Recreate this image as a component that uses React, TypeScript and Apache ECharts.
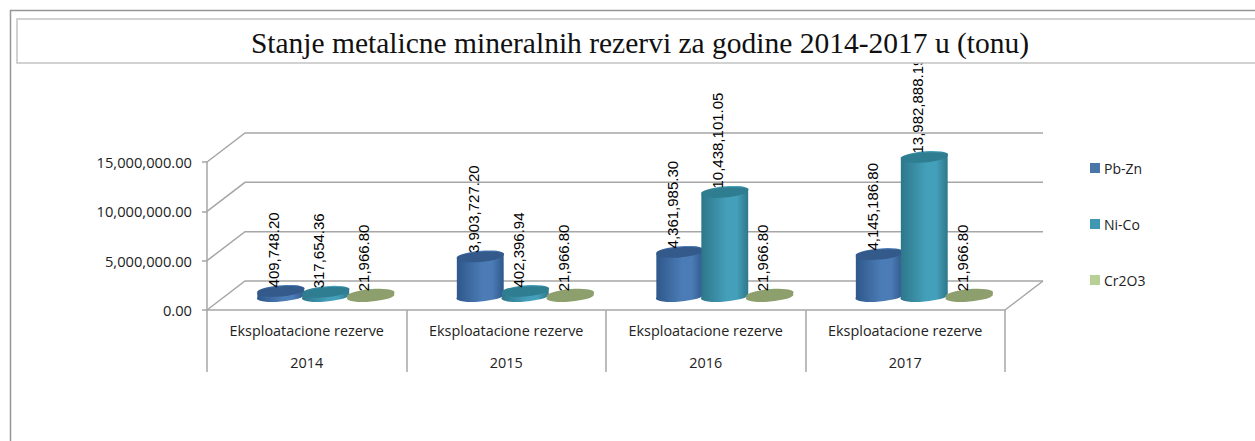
import React, { useEffect, useRef } from "react";
import * as echarts from "echarts";

const years = ["2014", "2015", "2016", "2017"];
const groupLabel = "Eksploatacione rezerve";
const titleText = "Stanje metalicne mineralnih rezervi za godine 2014-2017 u (tonu)";
const yTicks = [0, 5000000, 10000000, 15000000];
const pbZn = [409748.2, 3903727.2, 4361985.3, 4145186.8];
const niCo = [317654.36, 402396.94, 10438101.05, 13982888.19];
const cr2o3 = [21966.8, 21966.8, 21966.8, 21966.8];

const DEPTH_X = 38;
const DEPTH_Y = 29;
const GRID_COLOR = "#a6a6a6";
const RX = 23.5;
const RY = 5;
const TILT = (5 * Math.PI) / 180;

const fmt = (v: number) =>
  v.toLocaleString("en-US", { minimumFractionDigits: 2, maximumFractionDigits: 2 });

const cylinder = (offset: number, side: string, mid: string, top: string) => (params: any, api: any) => {
  const cat = api.value(0);
  const val = api.value(1);
  const t = api.coord([cat, val]);
  const b = api.coord([cat, 0]);
  const cx = t[0] + DEPTH_X / 2 + offset;
  const dy = DEPTH_Y / 2;
  const ty = t[1] - dy;
  const by = b[1] - dy;
  const ex = RX * Math.cos(TILT);
  const ey = RX * Math.sin(TILT);
  const deg = (TILT * 180) / Math.PI;
  const d =
    `M${cx - ex} ${ty + ey}L${cx - ex} ${by + ey}` +
    `A${RX} ${RY} ${-deg} 0 0 ${cx + ex} ${by - ey}` +
    `L${cx + ex} ${ty - ey}` +
    `A${RX} ${RY} ${-deg} 0 0 ${cx - ex} ${ty + ey}Z`;
  return {
    type: "group",
    children: [
      {
        type: "path",
        shape: { d },
        style: {
          fill: {
            type: "linear", x: 0, y: 0, x2: 1, y2: 0,
            colorStops: [
              { offset: 0, color: side },
              { offset: 0.55, color: mid },
              { offset: 0.75, color: mid },
              { offset: 1, color: side },
            ],
          },
        },
      },
      {
        type: "ellipse",
        x: cx,
        y: ty,
        rotation: TILT,
        shape: { cx: 0, cy: 0, rx: RX, ry: RY },
        style: { fill: top },
      },
      {
        type: "text",
        x: cx - 7,
        y: ty - 4,
        rotation: Math.PI / 2,
        z2: 10,
        style: {
          x: 0,
          y: 0,
          text: fmt(val),
          align: "left",
          verticalAlign: "middle",
          fontFamily: "Liberation Sans",
          fontSize: 15,
          fill: "#000",
        },
      },
    ],
  };
};

const wall = (params: any, api: any) => {
  const v = api.value(0);
  const a = api.coord([0, v]);
  const band = api.size([1, 0])[0] as number;
  const left = a[0] - band / 2;
  const right = left + band * years.length;
  const children: any[] = [
    {
      type: "polyline",
      shape: {
        points: [
          [left, a[1]],
          [left + DEPTH_X, a[1] - DEPTH_Y],
          [right + DEPTH_X, a[1] - DEPTH_Y],
        ],
      },
      style: { fill: "none", stroke: GRID_COLOR, lineWidth: 1.5 },
    },
  ];
  if (v === 0) {
    children.push({
      type: "line",
      shape: { x1: right, y1: a[1], x2: right + DEPTH_X, y2: a[1] - DEPTH_Y },
      style: { stroke: GRID_COLOR, lineWidth: 1.5 },
    });
  }
  return { type: "group", children };
};

const toRows = (vals: number[]) => vals.map((v, i) => [i, v]);

export default function App() {
  const ref = useRef<HTMLDivElement>(null);
  useEffect(() => {
    const chart = echarts.init(ref.current!, undefined, { renderer: "svg" });
    chart.setOption({
      animation: false,
      backgroundColor: "#fff",
      title: {
        text: titleText,
        left: 635,
        top: 23,
        textAlign: "center",
        z: 60,
        textStyle: { fontFamily: "Liberation Serif", fontSize: 29.5, fontWeight: "normal", color: "#111" },
      },
      graphic: [
        {
          type: "rect",
          z: 40,
          silent: true,
          shape: { x: 10.5, y: 10.5, width: 1400, height: 600 },
          style: { fill: "none", stroke: "#969696", lineWidth: 1.5 },
        },
        {
          type: "rect",
          z: 50,
          silent: true,
          shape: { x: 17, y: 19, width: 1400, height: 44 },
          style: { fill: "#fff", stroke: "#c4c4c4", lineWidth: 1.5 },
        },
      ],
      legend: {
        orient: "vertical",
        left: 1085,
        top: 155,
        itemWidth: 10,
        itemHeight: 10,
        itemGap: 40,
        icon: "rect",
        data: ["Pb-Zn", "Ni-Co", "Cr2O3"],
        textStyle: { fontFamily: "Open Sans", fontSize: 14, color: "#222", height: 16, lineHeight: 16, padding: [0, 0, 0, -1] },
      },
      grid: { left: 207, width: 798, top: 162, height: 148 },
      xAxis: {
        type: "category",
        data: years,
        axisLine: { lineStyle: { color: GRID_COLOR, width: 1.5 } },
        axisTick: { show: true, length: 62, interval: 0, alignWithLabel: false, lineStyle: { color: GRID_COLOR, width: 1.5 } },
        axisLabel: {
          interval: 0,
          margin: 4,
          lineHeight: 32,
          fontFamily: "Open Sans",
          fontSize: 14.4,
          color: "#222",
          formatter: (v: string) => `${groupLabel}\n${v}`,
        },
      },
      yAxis: {
        type: "value",
        min: 0,
        max: 15000000,
        interval: 5000000,
        splitLine: { show: false },
        axisLine: { show: true, lineStyle: { color: GRID_COLOR, width: 1.5 } },
        axisTick: { show: true, length: 5, lineStyle: { color: GRID_COLOR, width: 1.5 } },
        axisLabel: { margin: 15, fontFamily: "Open Sans", fontSize: 14.7, color: "#222", formatter: (v: number) => fmt(v) },
      },
      series: [
        {
          type: "custom",
          name: "wall",
          silent: true,
          z: 1,
          renderItem: wall,
          encode: { y: 0 },
          data: yTicks.map((v) => [v]),
        },
        {
          type: "custom",
          name: "Pb-Zn",
          z: 3,
          itemStyle: { color: "#4a76a8" },
          renderItem: cylinder(-45, "#2e578a", "#4c7cb6", "#34598b"),
          encode: { x: 0, y: 1 },
          data: toRows(pbZn),
        },
        {
          type: "custom",
          name: "Ni-Co",
          z: 4,
          itemStyle: { color: "#3e98b2" },
          renderItem: cylinder(0, "#2d7689", "#44a0ba", "#2f7d90"),
          encode: { x: 0, y: 1 },
          data: toRows(niCo),
        },
        {
          type: "custom",
          name: "Cr2O3",
          z: 5,
          itemStyle: { color: "#b8cf96" },
          renderItem: cylinder(45, "#8e9f6e", "#8e9f6e", "#8e9f6e"),
          encode: { x: 0, y: 1 },
          data: toRows(cr2o3),
        },
      ],
    });
    return () => chart.dispose();
  }, []);
  return <div ref={ref} style={{ position: "absolute", left: 0, top: 0, width: 1255, height: 441 }} />;
}
